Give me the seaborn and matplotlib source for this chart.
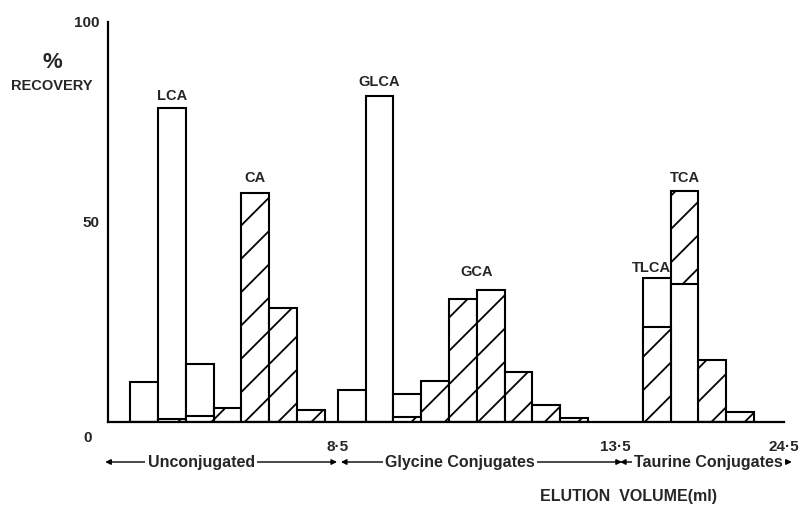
import matplotlib
matplotlib.use("Agg")
import matplotlib.pyplot as plt
import seaborn as sns
import numpy as np
import pandas as pd

# ---- data -------------------------------------------------------------
# fraction centres along the (fraction-index) elution axis
fraction_centre = [1.3, 2.3, 3.3, 4.3, 5.3, 6.3, 7.3,
                   8.77, 9.77, 10.77, 11.77, 12.77, 13.77, 14.77, 15.77, 16.77,
                   19.74, 20.74, 21.74, 22.74]
# open bars: lithocholate series (LCA, GLCA, TLCA)
lithocholate = [10, 78.5, 14.5, 0, 0, 0, 0,
                8, 81.5, 7, 0, 0, 0, 0, 0, 0,
                36, 34.5, 0, 0]
# hatched bars: cholate series (CA, GCA, TCA)
cholate = [0, 0.8, 1.5, 3.6, 57.2, 28.6, 3.1,
           0, 0, 1.3, 10.3, 30.8, 32.9, 12.6, 4.3, 0.9,
           23.7, 57.7, 15.4, 2.5]
x_tick_pos = [8.27, 18.24, 24.32]
x_tick_labels = ["8\u00b75", "13\u00b75", "24\u00b75"]
y_ticks = [50, 100]
peak_labels = ["LCA", "CA", "GLCA", "GCA", "TLCA", "TCA"]
peak_x = [2.3, 5.3, 9.77, 13.27, 19.45, 20.74]
peak_y = [81.5, 61, 85, 37.5, 38.5, 61]
groups = ["Unconjugated", "Glycine Conjugates", "Taurine Conjugates"]

df = pd.DataFrame({"x": fraction_centre, "open": lithocholate, "hatched": cholate})

# ---- style ------------------------------------------------------------
sns.set_theme(style="white")
plt.rcParams['font.family'] = ['Liberation Sans', 'DejaVu Sans']
plt.rcParams['hatch.linewidth'] = 1.3
plt.rcParams['hatch.color'] = 'black'

fig = plt.figure(figsize=(8.06, 5.08), dpi=100)
ax = fig.add_axes([108/806, 1 - 422/508, (784 - 108)/806, 400/508])

sns.barplot(data=df, x="x", y="open", native_scale=True, orient="x", width=1,
            color="white", saturation=1, edgecolor="black", linewidth=1.5,
            errorbar=None, ax=ax)
sns.barplot(data=df, x="x", y="hatched", native_scale=True, orient="x", width=1,
            color="white", saturation=1, edgecolor="black", linewidth=1.5,
            errorbar=None, ax=ax)

c_open, c_hatch = ax.containers[0], ax.containers[1]
for po, ph in zip(c_open.patches, c_hatch.patches):
    ph.set_hatch("/")
    ph.set_facecolor("white")
    po.set_facecolor("white")
    if po.get_height() <= ph.get_height():
        po.set_zorder(3); ph.set_zorder(2)
    else:
        po.set_zorder(2); ph.set_zorder(3)

ax.set_xlim(0, 24.32)
ax.set_ylim(0, 100)
ax.set_facecolor("white")
for s in ["top", "right"]:
    ax.spines[s].set_visible(False)
for s in ["left", "bottom"]:
    ax.spines[s].set_color("black")
    ax.spines[s].set_linewidth(1.6)
    ax.spines[s].set_zorder(5)

ax.set_xticks(x_tick_pos)
ax.set_xticklabels(x_tick_labels, fontsize=11, fontweight="bold")
ax.set_yticks(y_ticks)
ax.set_yticklabels([str(v) for v in y_ticks], fontsize=11, fontweight="bold")
ax.tick_params(axis="x", direction="out", length=7, width=1.4, color="black", pad=6)
ax.tick_params(axis="y", direction="out", length=4, width=1.4, color="black", pad=2)
ax.set_xlabel("")
ax.set_ylabel("")
ax.text(-0.72, -4, "0", ha="center", va="center", fontsize=11, fontweight="bold",
        clip_on=False)

for lab, xx, yy in zip(peak_labels, peak_x, peak_y):
    ha = "right" if lab == "TLCA" else "center"
    xx_ = 20.24 if lab == "TLCA" else xx
    ax.text(xx_, yy, lab, ha=ha, va="center", fontsize=10.5, fontweight="bold")

# axis title
fig.text(52/806, 1 - 63/508, "%", ha="center", va="center", fontsize=16,
         fontweight="bold")
fig.text(52/806, 1 - 86/508, "RECOVERY", ha="center", va="center", fontsize=10.5,
         fontweight="bold")
fig.text(629/806, 1 - 497/508, "ELUTION  VOLUME(ml)", ha="center", va="center",
         fontsize=11.5, fontweight="bold")

# group range annotations
yg = -10
arrow = dict(arrowstyle="-|>", lw=1.0, color="black", mutation_scale=8,
             shrinkA=0, shrinkB=0)
spans = [(-0.1, 1.45, 5.25, 8.24), (8.38, 10.0, 15.3, 18.49), (18.42, 18.95, 24.25, 24.6)]
for name, (a, t0, t1, b) in zip(groups, spans):
    ax.annotate("", xy=(a, yg), xytext=(t0, yg), arrowprops=arrow,
                annotation_clip=False, zorder=1)
    ax.annotate("", xy=(b, yg), xytext=(t1, yg), arrowprops=arrow,
                annotation_clip=False, zorder=1)
    ax.text((t0 + t1) / 2, yg, name, ha="center", va="center", fontsize=11.5,
            fontweight="bold", clip_on=False, zorder=6,
            bbox=dict(facecolor="white", edgecolor="none", pad=1.5))

fig.savefig("out.png", dpi=100, facecolor="white")
